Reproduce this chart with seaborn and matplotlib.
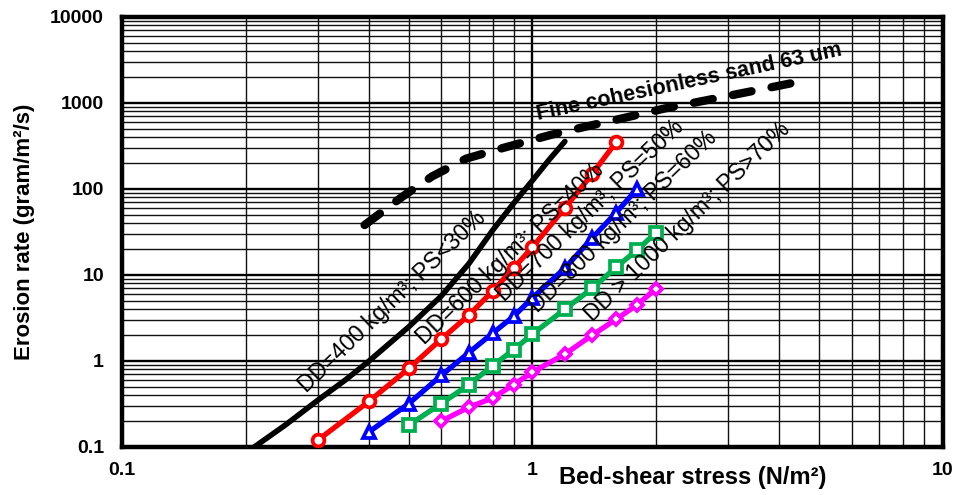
import numpy as np
import pandas as pd
import seaborn as sns
import matplotlib.pyplot as plt
from matplotlib.ticker import LogLocator, NullFormatter

# ---- data ----
# DD=400 kg/m3 (black solid curve)
dd400_x = [0.20, 0.21, 0.25, 0.30, 0.35, 0.40, 0.50, 0.60, 0.70, 0.80, 0.90, 1.00, 1.10, 1.20]
dd400_y = [0.08, 0.10, 0.18, 0.35, 0.60, 1.00, 2.5, 5.7, 13.5, 33, 68, 125, 220, 356]

# DD=600 kg/m3 (red circles)
dd600_x = [0.3, 0.4, 0.5, 0.6, 0.7, 0.8, 0.9, 1.0, 1.2, 1.4, 1.6]
dd600_y = [0.12, 0.34, 0.82, 1.8, 3.4, 6.5, 12, 21, 60, 150, 350]

# DD=700 kg/m3 (blue triangles)
dd700_x = [0.4, 0.5, 0.6, 0.7, 0.8, 0.9, 1.0, 1.2, 1.4, 1.6, 1.8]
dd700_y = [0.15, 0.32, 0.68, 1.25, 2.1, 3.3, 5.4, 12, 27, 53, 100]

# DD=800 kg/m3 (green squares)
dd800_x = [0.5, 0.6, 0.7, 0.8, 0.9, 1.0, 1.2, 1.4, 1.6, 1.8, 2.0]
dd800_y = [0.18, 0.32, 0.53, 0.88, 1.35, 2.05, 4.0, 7.0, 12.3, 19.5, 31]

# DD > 1000 kg/m3 (magenta diamonds)
dd1000_x = [0.6, 0.7, 0.8, 0.9, 1.0, 1.2, 1.4, 1.6, 1.8, 2.0]
dd1000_y = [0.20, 0.29, 0.37, 0.53, 0.74, 1.2, 2.0, 3.05, 4.5, 6.9]

# fine cohesionless sand 63 um (black dashed)
sand_x = [0.39, 0.48, 0.57, 0.69, 0.85, 1.1, 1.35, 1.7, 2.1, 2.65, 3.25, 4.3]
sand_y = [38, 80, 140, 225, 300, 420, 530, 680, 860, 1070, 1300, 1700]

x_ticks = [0.1, 1, 10]
x_tick_labels = ["0.1", "1", "10"]
y_ticks = [0.1, 1, 10, 100, 1000, 10000]
y_tick_labels = ["0.1", "1", "10", "100", "1000", "10000"]

sns.set_style("white", {"text.color": "black", "axes.labelcolor": "black",
                        "xtick.color": "black", "ytick.color": "black"})
plt.rcParams['font.family'] = ['Liberation Sans', 'DejaVu Sans']

fig = plt.figure(figsize=(9.61, 4.95), dpi=100)
ax = fig.add_axes([0.127, 0.097, 0.854, 0.869])

# curves
sns.lineplot(x=dd400_x, y=dd400_y, ax=ax, color="black", lw=4, zorder=4)
sns.lineplot(x=sand_x, y=sand_y, ax=ax, color="black", lw=6,
             linestyle=(0, (2.3, 2.45)), dash_capstyle="round", zorder=4)

series = [
    (dd600_x, dd600_y, "#FF0000", "o", 8.5),
    (dd700_x, dd700_y, "#0000FF", "^", 9),
    (dd800_x, dd800_y, "#00B050", "s", 8),
    (dd1000_x, dd1000_y, "#FF00FF", "D", 6.5),
]
for xs, ys, col, mk, ms in series:
    sns.lineplot(x=xs, y=ys, ax=ax, color=col, lw=3.8, marker=mk, markersize=ms,
                 markerfacecolor="white", markeredgecolor=col, markeredgewidth=2.7,
                 zorder=5)

ax.set_xscale("log")
ax.set_yscale("log")
ax.set_xlim(0.1, 10)
ax.set_ylim(0.1, 10000)

ax.set_xticks(x_ticks)
ax.set_xticklabels(x_tick_labels)
ax.set_yticks(y_ticks)
ax.set_yticklabels(y_tick_labels)
ax.xaxis.set_minor_locator(LogLocator(base=10, subs=np.arange(2, 10)))
ax.yaxis.set_minor_locator(LogLocator(base=10, subs=np.arange(2, 10), numticks=20))
ax.xaxis.set_minor_formatter(NullFormatter())
ax.yaxis.set_minor_formatter(NullFormatter())
ax.tick_params(which="both", length=0)
ax.tick_params(axis="x", pad=11, labelsize=14, labelcolor="black")
ax.tick_params(axis="y", pad=13, labelsize=14, labelcolor="black")
for lab in ax.get_xticklabels() + ax.get_yticklabels():
    lab.set_fontweight("bold")

ax.grid(which="major", color="black", lw=1.7)
ax.grid(which="minor", color="#111111", lw=1.0)
ax.set_axisbelow(True)
for sp in ax.spines.values():
    sp.set_visible(True)
    sp.set_color("black")
    sp.set_linewidth(3.2)

ax.set_xlabel("Bed-shear stress (N/m²)", fontsize=17, fontweight="bold", color="black")
ax.xaxis.set_label_coords(0.6955, -0.045)
ax.set_ylabel("Erosion rate (gram/m²/s)", fontsize=16, fontweight="bold", color="black")
ax.yaxis.set_label_coords(-0.106, 0.5)

# curve labels
labels = [
    (0.282, 0.425, "DD=400 kg/m³; PS<30%"),
    (0.547, 1.53, "DD=600 kg/m³; PS=40%"),
    (0.857, 4.73, "DD=700 kg/m³; PS=50%"),
    (1.03, 3.6, "DD=800 kg/m³; PS=60%"),
    (1.40, 2.77, "DD > 1000 kg/m³; PS>70%"),
]
for lx, ly, txt in labels:
    ax.text(lx, ly, txt, rotation=44, rotation_mode="anchor", ha="left",
            va="baseline", fontsize=16.5, color="black", zorder=6)
ax.text(1.03, 632, "Fine cohesionless sand 63 um", rotation=12,
        rotation_mode="anchor", ha="left", va="baseline", fontsize=15.5,
        fontweight="bold", color="black", zorder=6)

fig.savefig("out.png", dpi=100)
